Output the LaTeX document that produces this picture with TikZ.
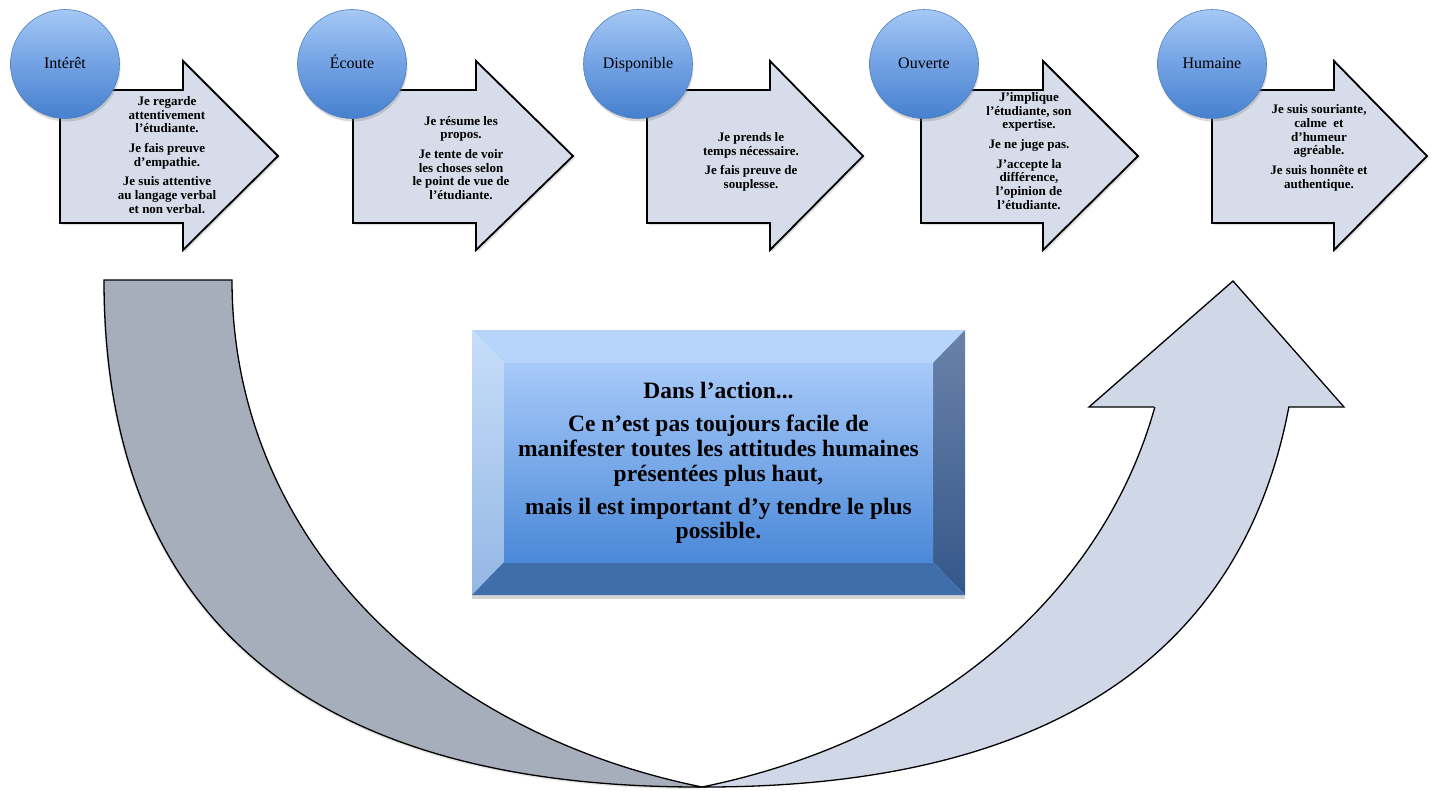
\documentclass[tikz,border=0pt]{standalone}
\usepackage{fontspec}
\setmainfont{Liberation Serif}
\usetikzlibrary{shadows}
\definecolor{arrowfill}{HTML}{D6DCE9}
\definecolor{greyband}{HTML}{A7AEBB}
\definecolor{lightband}{HTML}{D0D7E6}
\definecolor{balltop}{HTML}{A5C8F4}
\definecolor{ballmid}{HTML}{72A2E4}
\definecolor{ballbot}{HTML}{4680CE}
\definecolor{balledge}{HTML}{527FBE}
\definecolor{bevtop}{HTML}{B7D5FA}
\definecolor{bevlefttop}{HTML}{C8DEF9}
\definecolor{bevleftbot}{HTML}{93B7E4}
\definecolor{bevrighttop}{HTML}{6A82A9}
\definecolor{bevrightbot}{HTML}{34578A}
\definecolor{bevbot}{HTML}{3F6EAB}
\definecolor{innertop}{HTML}{A8CAF9}
\definecolor{innerbot}{HTML}{4A88D8}
\tikzset{
  toparrow/.style={draw=black, line width=1.8pt, line join=miter, fill=arrowfill,
    drop shadow={opacity=0.25, shadow xshift=2pt, shadow yshift=-2pt}},
  arrowtext/.style={align=center, inner sep=0pt,
    font=\bfseries\fontsize{13}{13.7}\selectfont},
  ball/.style={circle, minimum size=109pt, inner sep=0pt,
    text height=11pt, text depth=3pt,
    top color=balltop, bottom color=ballbot, middle color=ballmid,
    draw=balledge, line width=0.6pt,
    drop shadow={opacity=0.3, shadow xshift=1pt, shadow yshift=-3pt},
    font=\fontsize{16}{18}\selectfont},
  band/.style={draw=black, line width=1.3pt, line join=miter},
  msgtext/.style={align=center, inner sep=0pt,
    font=\bfseries\fontsize{23.5}{24.7}\selectfont},
}
\begin{document}
\begin{tikzpicture}[x=1pt, y=-1pt]
\useasboundingbox (0,0) rectangle (1435,790);

% ---- top arrows ----
\foreach \L/\H/\T in {60/183/278, 353/476/573, 647/770/863, 921/1043/1138, 1212/1334/1427}{
  \path[toparrow] (\L,90) -- (\H,90) -- (\H,61) -- (\T,156) -- (\H,250) -- (\H,223) -- (\L,223) -- cycle;
}

\node[arrowtext] (t1) at (167,155) {Je regarde\\attentivement\\l’étudiante.\\[6pt]Je fais preuve\\d’empathie.\\[6pt]Je suis attentive\\au langage verbal\\et non verbal.};
\node[arrowtext] (t2) at (461,158) {Je résume les\\propos.\\[6pt]Je tente de voir\\les choses selon\\le point de vue de\\l’étudiante.};
\node[arrowtext] (t3) at (751,162) {Je prends le\\temps nécessaire.\\[6pt]Je fais preuve de\\souplesse.};
\node[arrowtext] (t4) at (1029,151) {J’implique\\l’étudiante, son\\expertise.\\[6pt]Je ne juge pas.\\[6pt]J’accepte la\\différence,\\l’opinion de\\l’étudiante.};
\node[arrowtext] (t5) at (1319,148) {Je suis souriante,\\calme~ et\\d’humeur\\agréable.\\[6pt]Je suis honnête et\\authentique.};

% ---- circles ----
\node[ball] (c1) at (65,64) {Intérêt};
\node[ball] (c2) at (352,64) {Écoute};
\node[ball] (c3) at (638,64) {Disponible};
\node[ball] (c4) at (924,64) {Ouverte};
\node[ball] (c5) at (1212,64) {Humaine};

% ---- grey band (left) ----
\path[band, fill=greyband, drop shadow={opacity=0.2, shadow xshift=-1pt, shadow yshift=-2pt}]
  (104,280) -- (232,280) .. controls (232,530) and (422,730) .. (702,787)
  .. controls (267,788) and (104,579) .. (104,280) -- cycle;

% ---- light arrow (right) ----
\begin{scope}
  \clip (600,407) rectangle (1435,800);
  \path[band, fill=lightband]
    (702,787) .. controls (982,730) and (1172,530) .. (1172,280)
    -- (1300,280) .. controls (1300,579) and (1137,788) .. (702,787) -- cycle;
\end{scope}
\fill[lightband] (1154,407) -- (1089,407) -- (1233,281) -- (1344,407) -- (1288,407) -- cycle;
\draw[band] (1154,407) -- (1089,407) -- (1233,281) -- (1344,407) -- (1288,407);

% ---- central bevelled box ----
\path[fill=white, drop shadow={opacity=0.35, shadow xshift=0pt, shadow yshift=-4pt}]
  (472,330) rectangle (965,595);
\fill[bevtop] (472,330) -- (965,330) -- (933,363) -- (504,363) -- cycle;
\shade[top color=bevlefttop, bottom color=bevleftbot] (472,330) -- (504,363) -- (504,562) -- (472,595) -- cycle;
\shade[top color=bevrighttop, bottom color=bevrightbot] (965,330) -- (965,595) -- (933,562) -- (933,363) -- cycle;
\fill[bevbot] (472,595) -- (504,562) -- (933,562) -- (965,595) -- cycle;
\shade[top color=innertop, bottom color=innerbot] (504,363) rectangle (933,562);

\node[msgtext] (msg) at (718.5,463) {Dans l’action...\\[8.5pt]Ce n’est pas toujours facile de\\manifester toutes les attitudes humaines\\présentées plus haut,\\[8.5pt]mais il est important d’y tendre le plus\\possible.};
\end{tikzpicture}
\end{document}
